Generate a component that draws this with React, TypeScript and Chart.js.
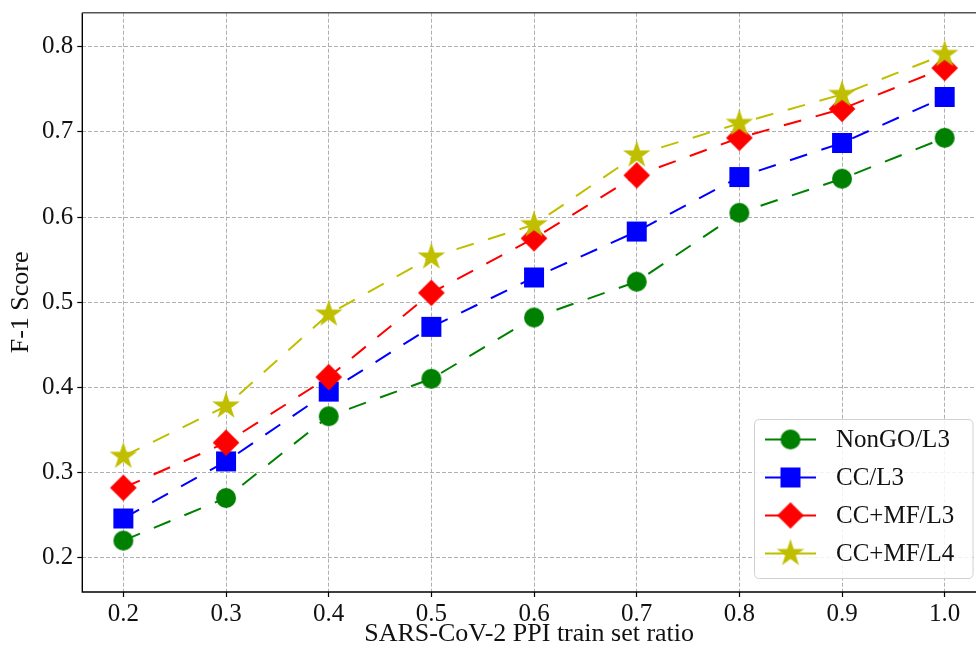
import React, { useEffect, useRef } from 'react';
import { Chart, registerables } from 'chart.js';

Chart.register(...registerables);

// ---- data ----
const xValues = [0.2, 0.3, 0.4, 0.5, 0.6, 0.7, 0.8, 0.9, 1.0];
const xTickValues = [0.2, 0.3, 0.4, 0.5, 0.6, 0.7, 0.8, 0.9, 1.0];
const yTickValues = [0.2, 0.3, 0.4, 0.5, 0.6, 0.7, 0.8];
const seriesLabels = ['NonGO/L3', 'CC/L3', 'CC+MF/L3', 'CC+MF/L4'];
const nonGoL3 = [0.22, 0.27, 0.366, 0.41, 0.482, 0.524, 0.605, 0.645, 0.693];
const ccL3 = [0.246, 0.313, 0.395, 0.471, 0.529, 0.583, 0.647, 0.687, 0.741];
const ccMfL3 = [0.282, 0.335, 0.412, 0.511, 0.575, 0.649, 0.693, 0.727, 0.775];
const ccMfL4 = [0.319, 0.378, 0.486, 0.553, 0.591, 0.673, 0.71, 0.744, 0.791];
const xTitle = 'SARS-CoV-2 PPI train set ratio';
const yTitle = 'F-1 Score';

const seriesValues = [nonGoL3, ccL3, ccMfL3, ccMfL4];
const seriesColors = ['#008000', '#0000ff', '#ff0000', '#bfbf00'];
const seriesMarkers = ['circle', 'square', 'diamond', 'star'];

const FONT = '"Liberation Serif", "Times New Roman", serif';

function makeMarker(kind: string, color: string): HTMLCanvasElement {
  const size = 32;
  const c = document.createElement('canvas');
  c.width = size;
  c.height = size;
  const ctx = c.getContext('2d')!;
  const cx = size / 2;
  const cy = size / 2;
  ctx.fillStyle = color;
  ctx.beginPath();
  if (kind === 'circle') {
    ctx.arc(cx, cy, 10, 0, Math.PI * 2);
  } else if (kind === 'square') {
    ctx.rect(cx - 10, cy - 10, 20, 20);
  } else if (kind === 'diamond') {
    const r = 13.3;
    ctx.moveTo(cx, cy - r);
    ctx.lineTo(cx + r, cy);
    ctx.lineTo(cx, cy + r);
    ctx.lineTo(cx - r, cy);
    ctx.closePath();
  } else {
    const R = 14.5;
    const r = R * 0.381966;
    for (let i = 0; i < 10; i++) {
      const rad = i % 2 === 0 ? R : r;
      const a = -Math.PI / 2 + (i * Math.PI) / 5;
      const px = cx + rad * Math.cos(a);
      const py = cy + rad * Math.sin(a);
      if (i === 0) ctx.moveTo(px, py);
      else ctx.lineTo(px, py);
    }
    ctx.closePath();
  }
  ctx.fill();
  return c;
}

export default function App() {
  const canvasRef = useRef<HTMLCanvasElement | null>(null);

  useEffect(() => {
    document.body.style.margin = '0';
    const canvas = canvasRef.current;
    if (!canvas) return;

    const markers = seriesMarkers.map((m, i) => makeMarker(m, seriesColors[i]));

    const datasets = seriesLabels.map((label, i) => ({
      label,
      data: xValues.map((x, j) => ({ x, y: seriesValues[i][j] })),
      borderColor: seriesColors[i],
      backgroundColor: seriesColors[i],
      borderWidth: 2,
      borderDash: [18, 15],
      pointStyle: markers[i],
      pointRadius: 10,
      pointHoverRadius: 10,
      fill: false,
      tension: 0,
      order: seriesLabels.length - i,
    }));

    const spinesPlugin = {
      id: 'spines',
      afterDraw(chart: any) {
        const { ctx, chartArea } = chart;
        const { left, right, top, bottom } = chartArea;
        ctx.save();
        ctx.strokeStyle = '#000';
        ctx.lineWidth = 1.4;
        ctx.beginPath();
        ctx.moveTo(left, top);
        ctx.lineTo(left, bottom);
        ctx.lineTo(right, bottom);
        ctx.stroke();
        ctx.strokeStyle = '#555';
        ctx.lineWidth = 1.4;
        ctx.beginPath();
        ctx.moveTo(left, top);
        ctx.lineTo(right, top);
        ctx.stroke();
        ctx.restore();
      },
    };

    const legendPlugin = {
      id: 'customLegend',
      afterDraw(chart: any) {
        const { ctx } = chart;
        const bx = 754.5;
        const by = 419.5;
        const bw = 218.5;
        const bh = 159;
        const rr = 5;
        ctx.save();
        ctx.beginPath();
        ctx.moveTo(bx + rr, by);
        ctx.lineTo(bx + bw - rr, by);
        ctx.quadraticCurveTo(bx + bw, by, bx + bw, by + rr);
        ctx.lineTo(bx + bw, by + bh - rr);
        ctx.quadraticCurveTo(bx + bw, by + bh, bx + bw - rr, by + bh);
        ctx.lineTo(bx + rr, by + bh);
        ctx.quadraticCurveTo(bx, by + bh, bx, by + bh - rr);
        ctx.lineTo(bx, by + rr);
        ctx.quadraticCurveTo(bx, by, bx + rr, by);
        ctx.closePath();
        ctx.fillStyle = 'rgba(255,255,255,0.85)';
        ctx.fill();
        ctx.strokeStyle = '#d0d0d0';
        ctx.lineWidth = 1;
        ctx.stroke();

        const rowYs = [439.5, 477.5, 515.5, 553.5];
        seriesLabels.forEach((label, i) => {
          const y = rowYs[i];
          ctx.strokeStyle = seriesColors[i];
          ctx.lineWidth = 2;
          ctx.setLineDash([]);
          ctx.beginPath();
          ctx.moveTo(765, y);
          ctx.lineTo(816, y);
          ctx.stroke();
          const m = markers[i];
          ctx.drawImage(m, 790.5 - m.width / 2, y - m.height / 2);
          ctx.fillStyle = '#111';
          ctx.font = `25px ${FONT}`;
          ctx.textAlign = 'left';
          ctx.textBaseline = 'middle';
          ctx.fillText(label, 836, y + 1);
        });
        ctx.restore();
      },
    };

    const chart = new Chart(canvas, {
      type: 'line',
      data: { datasets },
      plugins: [spinesPlugin, legendPlugin],
      options: {
        animation: false,
        responsive: false,
        devicePixelRatio: 1,
        layout: { padding: 0, autoPadding: false },
        plugins: {
          legend: { display: false },
          tooltip: { enabled: false },
        },
        scales: {
          x: {
            type: 'linear',
            min: 0.16,
            max: 1.0305,
            afterBuildTicks: (s: any) => {
              s.ticks = xTickValues.map((v) => ({ value: v }));
            },
            afterFit: (s: any) => {
              s.height = 59;
              s.paddingTop = 0;
              s.paddingBottom = 0;
              s.paddingLeft = 0;
              s.paddingRight = 0;
            },
            grid: {
              color: '#b0b0b0',
              lineWidth: 1,
              drawTicks: true,
              tickLength: 5,
              tickColor: '#000',
              tickWidth: 1.2,
              tickBorderDash: [],
            },
            border: { display: false, dash: [4, 2] },
            ticks: {
              color: '#111',
              font: { family: FONT, size: 25 },
              padding: 2,
              maxRotation: 0,
              autoSkip: false,
              callback: (v: any) => Number(v).toFixed(1),
            },
            title: {
              display: true,
              text: xTitle,
              color: '#111',
              font: { family: FONT, size: 26, lineHeight: 1.2 },
              padding: { top: 0, bottom: 1.5 },
            },
          },
          y: {
            type: 'linear',
            min: 0.1596,
            max: 0.84,
            afterBuildTicks: (s: any) => {
              s.ticks = yTickValues.map((v) => ({ value: v }));
            },
            afterFit: (s: any) => {
              s.width = 82.3;
              s.paddingTop = 12.7;
              s.paddingBottom = 0;
              s.paddingLeft = 0;
              s.paddingRight = 0;
            },
            grid: {
              color: '#b0b0b0',
              lineWidth: 1,
              drawTicks: true,
              tickLength: 5,
              tickColor: '#000',
              tickWidth: 1.2,
              tickBorderDash: [],
            },
            border: { display: false, dash: [4, 2] },
            ticks: {
              color: '#111',
              font: { family: FONT, size: 25 },
              padding: 4,
              autoSkip: false,
              callback: (v: any) => Number(v).toFixed(1),
            },
            title: {
              display: true,
              text: yTitle,
              color: '#111',
              font: { family: FONT, size: 26, lineHeight: 1.2 },
              padding: { top: 6, bottom: 0 },
            },
          },
        },
      },
    } as any);

    return () => {
      chart.destroy();
    };
  }, []);

  return (
    <div style={{ width: 976, height: 651, position: 'relative' }}>
      <canvas ref={canvasRef} width={976} height={651} style={{ display: 'block' }} />
    </div>
  );
}
